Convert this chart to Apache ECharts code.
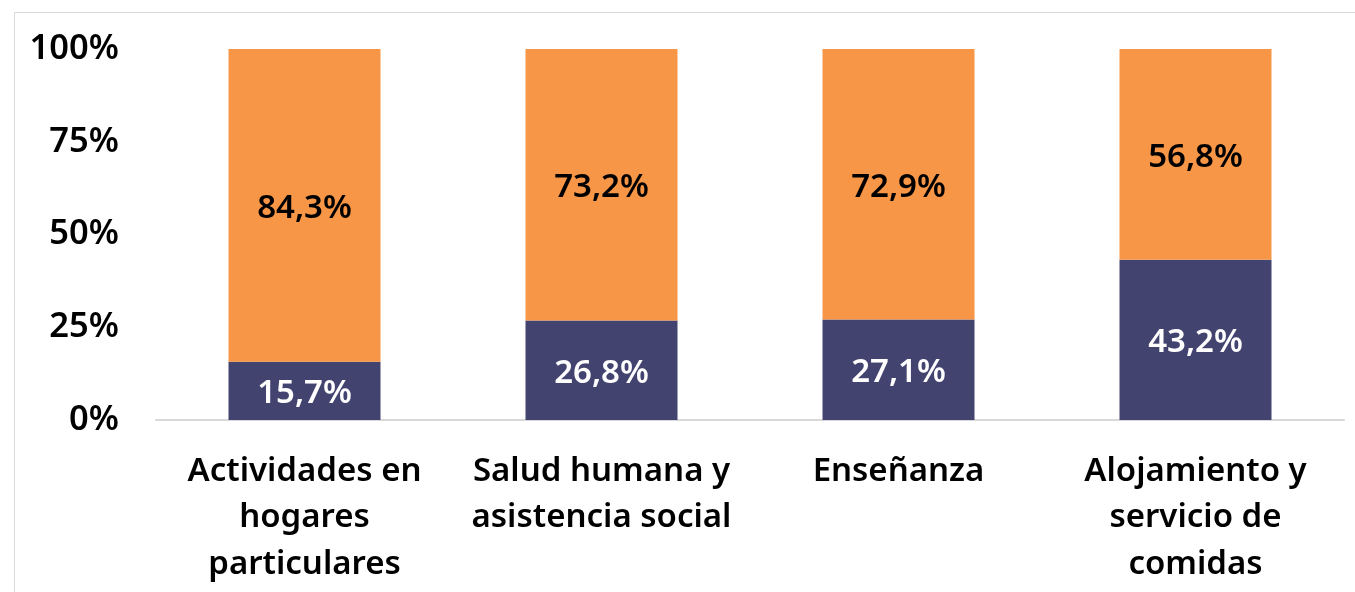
<!DOCTYPE html>
<html><head><meta charset="utf-8">
<script src="https://cdn.jsdelivr.net/npm/echarts@6/dist/echarts.min.js"></script>
<style>html,body{margin:0;padding:0;background:#fff}#c{width:1355px;height:592px}</style>
</head><body><div id="c"></div>
<script>
const categories = ["Actividades en\nhogares\nparticulares", "Salud humana y\nasistencia social", "Enseñanza", "Alojamiento y\nservicio de\ncomidas"];
const seriesLow = [15.7, 26.8, 27.1, 43.2];
const seriesHigh = [84.3, 73.2, 72.9, 56.8];
const yTicks = [0, 25, 50, 75, 100];

const FONT = '"Noto Sans", sans-serif';
const FS = 33;
const chart = echarts.init(document.getElementById('c'), null, {renderer: 'canvas'});
const fmt = v => v.toFixed(1).replace('.', ',') + '%';
chart.setOption({
  animation: false,
  graphic: [{type: 'rect', shape: {x: 14.5, y: 12.5, width: 1400, height: 700}, style: {fill: 'none', stroke: '#d9d9d9', lineWidth: 1}, z: -1}],
  grid: {left: 156, right: 11, top: 49, bottom: 172},
  xAxis: {
    type: 'category', data: categories,
    axisLine: {lineStyle: {color: '#d9d9d9', width: 2}},
    axisTick: {show: false},
    axisLabel: {color: '#000', fontFamily: FONT, fontWeight: 600, fontSize: FS, lineHeight: 46.5, margin: 28, interval: 0}
  },
  yAxis: {
    type: 'value', min: 0, max: 100, interval: 25,
    splitLine: {show: false},
    axisLine: {show: false}, axisTick: {show: false},
    axisLabel: {color: '#000', fontFamily: FONT, fontWeight: 600, fontSize: 34.5, margin: 37, padding: [5, 0, 0, 0],
      formatter: v => yTicks.includes(v) ? v + '%' : ''}
  },
  series: [
    {type: 'bar', stack: 't', data: seriesLow, barWidth: 152, itemStyle: {color: '#434370'},
      label: {show: true, position: 'inside', offset: [0, 3], color: '#fff', fontFamily: FONT, fontWeight: 600, fontSize: FS, formatter: p => fmt(p.value)}},
    {type: 'bar', stack: 't', data: seriesHigh, barWidth: 152, itemStyle: {color: '#F79646'},
      label: {show: true, position: 'inside', offset: [0, 3], color: '#000', fontFamily: FONT, fontWeight: 600, fontSize: FS, formatter: p => fmt(p.value)}}
  ]
});
</script></body></html>
